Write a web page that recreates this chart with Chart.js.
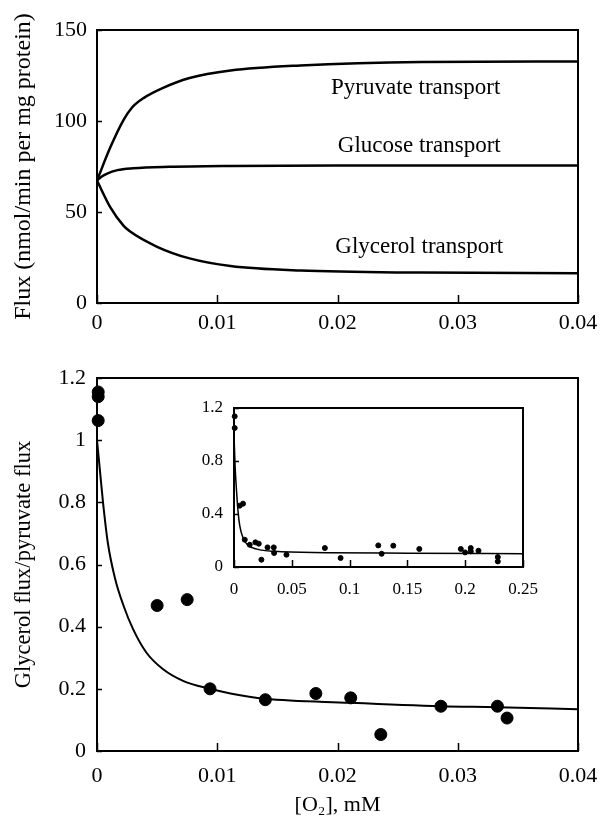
<!DOCTYPE html>
<html>
<head>
<meta charset="utf-8">
<script src="https://cdn.jsdelivr.net/npm/chart.js@4.4.0/dist/chart.umd.min.js"></script>
<style>
    html, body { margin: 0; padding: 0; background: #fff; }
    #wrap { position: relative; width: 600px; height: 827px; }
    canvas { position: absolute; }
    #top { left: 0; top: 0; }
    #bottom { left: 0; top: 350px; }
    #inset { left: 190px; top: 398px; }
</style>
</head>
<body>
<div id="wrap">
    <canvas id="top" width="600" height="345"></canvas>
    <canvas id="bottom" width="600" height="477"></canvas>
    <canvas id="inset" width="375" height="210"></canvas>
</div>
<script>
// Top panel: fluxes vs O2
const topX = [0, 0.0011, 0.0022, 0.0029, 0.0039, 0.0055, 0.0077, 0.0111, 0.0169, 0.027, 0.04];
const pyruvate = [67.3, 85.4, 100.5, 107.3, 112.7, 118.2, 123.6, 127.7, 130.5, 132.4, 132.7];
const glucoseX = [0, 0.0004, 0.0008, 0.0017, 0.003, 0.006, 0.011, 0.02, 0.04];
const glucose = [67.3, 69.5, 71, 73, 74, 74.8, 75.3, 75.6, 75.6];
const glycerolX = [0, 0.0011, 0.0022, 0.0027, 0.005, 0.0077, 0.0111, 0.0169, 0.027, 0.04];
const glycerol = [67.3, 52.7, 42.5, 39.5, 30.9, 24.5, 20.3, 17.8, 16.7, 16.4];
const topXTicks = [0, 0.01, 0.02, 0.03, 0.04];
const topYTicks = [0, 50, 100, 150];
const topNames = ['Pyruvate transport', 'Glucose transport', 'Glycerol transport'];

// Bottom panel: glycerol/pyruvate ratio
const ratioX = [0.0001, 0.0001, 0.0001, 0.0050, 0.0075, 0.0094, 0.0140, 0.0182, 0.0211, 0.0236, 0.0286, 0.0333, 0.0341];
const ratioY = [1.155, 1.14, 1.063, 0.468, 0.487, 0.200, 0.165, 0.185, 0.171, 0.053, 0.144, 0.144, 0.106];
const fitX = [0, 0.00025, 0.0005, 0.0009, 0.0015, 0.0022, 0.003, 0.0041, 0.0055, 0.0072, 0.0094, 0.0111, 0.014, 0.021, 0.0286, 0.0333, 0.04];
const fitY = [1.0, 0.9, 0.8, 0.67, 0.555, 0.468, 0.392, 0.317, 0.263, 0.225, 0.2, 0.185, 0.168, 0.155, 0.144, 0.141, 0.134];
const bottomYTicks = [0, 0.2, 0.4, 0.6, 0.8, 1, 1.2];

// Inset: full O2 range
const insetPtX = [0.0006, 0.0006, 0.005, 0.0078, 0.0093, 0.0136, 0.0185, 0.0214, 0.0237, 0.029, 0.0344, 0.0347, 0.0454,
    0.0786, 0.0922, 0.1248, 0.1277, 0.1378, 0.1603, 0.1962, 0.1999, 0.2048, 0.2048, 0.2115, 0.2282, 0.2282];
const insetPtY = [1.137, 1.049, 0.463, 0.478, 0.206, 0.168, 0.186, 0.176, 0.055, 0.148, 0.148, 0.106, 0.093,
    0.143, 0.068, 0.163, 0.1, 0.161, 0.136, 0.136, 0.11, 0.143, 0.118, 0.123, 0.075, 0.042];
const insetFitX = [0, 0.001, 0.002, 0.0035, 0.005, 0.008, 0.012, 0.02, 0.035, 0.08, 0.15, 0.25];
const insetFitY = [1.0, 0.75, 0.6, 0.42, 0.31, 0.215, 0.165, 0.135, 0.118, 0.108, 0.104, 0.1];
const insetXTicks = [0, 0.05, 0.1, 0.15, 0.2, 0.25];
const insetYTicks = [0, 0.4, 0.8, 1.2];

const SERIF = "'Liberation Serif', 'DejaVu Serif', serif";
const pts = (xs, ys) => xs.map((x, i) => ({ x: x, y: ys[i] }));

// closed frame around the plot area plus inward tick marks
const framePlugin = {
    id: 'frame',
    afterDatasetsDraw(chart, args, opts) {
        const a = chart.chartArea, ctx = chart.ctx;
        const xs = chart.scales.x, ys = chart.scales.y;
        ctx.save();
        ctx.strokeStyle = '#000';
        ctx.lineWidth = 1.5;
        ctx.beginPath();
        xs.ticks.forEach(t => {
            const px = Math.round(xs.getPixelForValue(t.value)) + 0.5;
            ctx.moveTo(px, a.bottom);
            ctx.lineTo(px, a.bottom - opts.xTick);
        });
        ys.ticks.forEach(t => {
            const py = Math.round(ys.getPixelForValue(t.value)) + 0.5;
            ctx.moveTo(a.left, py);
            ctx.lineTo(a.left + opts.yTick, py);
        });
        ctx.stroke();
        ctx.lineWidth = 2;
        ctx.strokeRect(a.left, a.top, a.right - a.left, a.bottom - a.top);
        ctx.restore();
    }
};

// text labels next to the curves in the top panel
const curveLabels = {
    id: 'curveLabels',
    afterDatasetsDraw(chart, args, opts) {
        if (!opts.items) return;
        const ctx = chart.ctx, xs = chart.scales.x, ys = chart.scales.y;
        ctx.save();
        ctx.fillStyle = '#000';
        ctx.font = '23px ' + SERIF;
        ctx.textAlign = 'center';
        ctx.textBaseline = 'middle';
        opts.items.forEach(it => {
            ctx.fillText(it.text, xs.getPixelForValue(it.x), ys.getPixelForValue(it.y));
        });
        ctx.restore();
    }
};

function axis(o) {
    return {
        type: 'linear',
        position: o.pos,
        min: o.min,
        max: o.max,
        afterBuildTicks: s => { s.ticks = o.ticks.map(v => ({ value: v })); },
        afterFit: s => {
            if (o.pos === 'left') s.width = o.size; else s.height = o.size;
            s.paddingLeft = 0; s.paddingRight = 0; s.paddingTop = 0; s.paddingBottom = 0;
        },
        ticks: {
            color: '#000',
            font: { family: SERIF, size: o.font },
            padding: o.pad,
            maxRotation: 0,
            autoSkip: false,
            callback: v => String(v)
        },
        grid: { display: false, drawTicks: false, tickLength: 0 },
        border: { display: false },
        title: o.title ? {
            display: true,
            text: o.title,
            color: '#000',
            font: { family: SERIF, size: o.titleSize || 22 },
            padding: o.titlePad
        } : { display: false }
    };
}

const common = {
    responsive: false,
    animation: false,
    events: [],
    plugins: { legend: { display: false }, tooltip: { enabled: false } }
};

new Chart(document.getElementById('top'), {
    type: 'line',
    data: {
        datasets: [
            { data: pts(topX, pyruvate) },
            { data: pts(glucoseX, glucose) },
            { data: pts(glycerolX, glycerol) }
        ].map(d => Object.assign(d, {
            borderColor: '#000', borderWidth: 2.5, pointRadius: 0,
            cubicInterpolationMode: 'monotone', fill: false
        }))
    },
    options: Object.assign({}, common, {
        layout: { padding: { top: 30, right: 22, left: 0, bottom: 0 } },
        scales: {
            x: axis({ pos: 'bottom', min: 0, max: 0.04, ticks: topXTicks, size: 42, font: 22, pad: 7 }),
            y: axis({ pos: 'left', min: 0, max: 150, ticks: topYTicks, size: 97, font: 22, pad: 10,
                title: 'Flux (nmol/min per mg protein)', titleSize: 24, titlePad: { top: 9, bottom: 0 } })
        },
        plugins: Object.assign({}, common.plugins, {
            frame: { xTick: 8, yTick: 5 },
            curveLabels: { items: [
                { text: topNames[0], x: 0.0265, y: 118 },
                { text: topNames[1], x: 0.0268, y: 86.4 },
                { text: topNames[2], x: 0.0268, y: 30.7 }
            ] }
        })
    }),
    plugins: [framePlugin, curveLabels]
});

new Chart(document.getElementById('bottom'), {
    type: 'scatter',
    data: {
        datasets: [
            {
                type: 'line', data: pts(fitX, fitY), borderColor: '#000', borderWidth: 2,
                pointRadius: 0, cubicInterpolationMode: 'monotone', fill: false
            },
            {
                data: pts(ratioX, ratioY), backgroundColor: '#000', borderColor: '#000',
                pointRadius: 6, clip: false
            }
        ]
    },
    options: Object.assign({}, common, {
        layout: { padding: { top: 28, right: 22, left: 0, bottom: 0 } },
        scales: {
            x: axis({ pos: 'bottom', min: 0, max: 0.04, ticks: topXTicks, size: 76, font: 22, pad: 12,
                title: '[O\u2082], mM', titlePad: { top: 0, bottom: 9 } }),
            y: axis({ pos: 'left', min: 0, max: 1.2, ticks: bottomYTicks, size: 97, font: 22, pad: 11,
                title: 'Glycerol flux/pyruvate flux', titleSize: 22.5, titlePad: { top: 11, bottom: 0 } })
        },
        plugins: Object.assign({}, common.plugins, { frame: { xTick: 8, yTick: 5 } })
    }),
    plugins: [framePlugin]
});

new Chart(document.getElementById('inset'), {
    type: 'scatter',
    data: {
        datasets: [
            {
                type: 'line', data: pts(insetFitX, insetFitY), borderColor: '#000', borderWidth: 1.5,
                pointRadius: 0, cubicInterpolationMode: 'monotone', fill: false
            },
            {
                data: pts(insetPtX, insetPtY), backgroundColor: '#000', borderColor: '#000',
                pointRadius: 2.5, clip: false
            }
        ]
    },
    options: Object.assign({}, common, {
        layout: { padding: { top: 10, right: 42, left: 0, bottom: 0 } },
        scales: {
            x: axis({ pos: 'bottom', min: 0, max: 0.25, ticks: insetXTicks, size: 41, font: 17, pad: 12 }),
            y: axis({ pos: 'left', min: 0, max: 1.2, ticks: insetYTicks, size: 44, font: 17, pad: 11 })
        },
        plugins: Object.assign({}, common.plugins, { frame: { xTick: 7, yTick: 5 } })
    }),
    plugins: [framePlugin]
});
</script>
</body>
</html>
